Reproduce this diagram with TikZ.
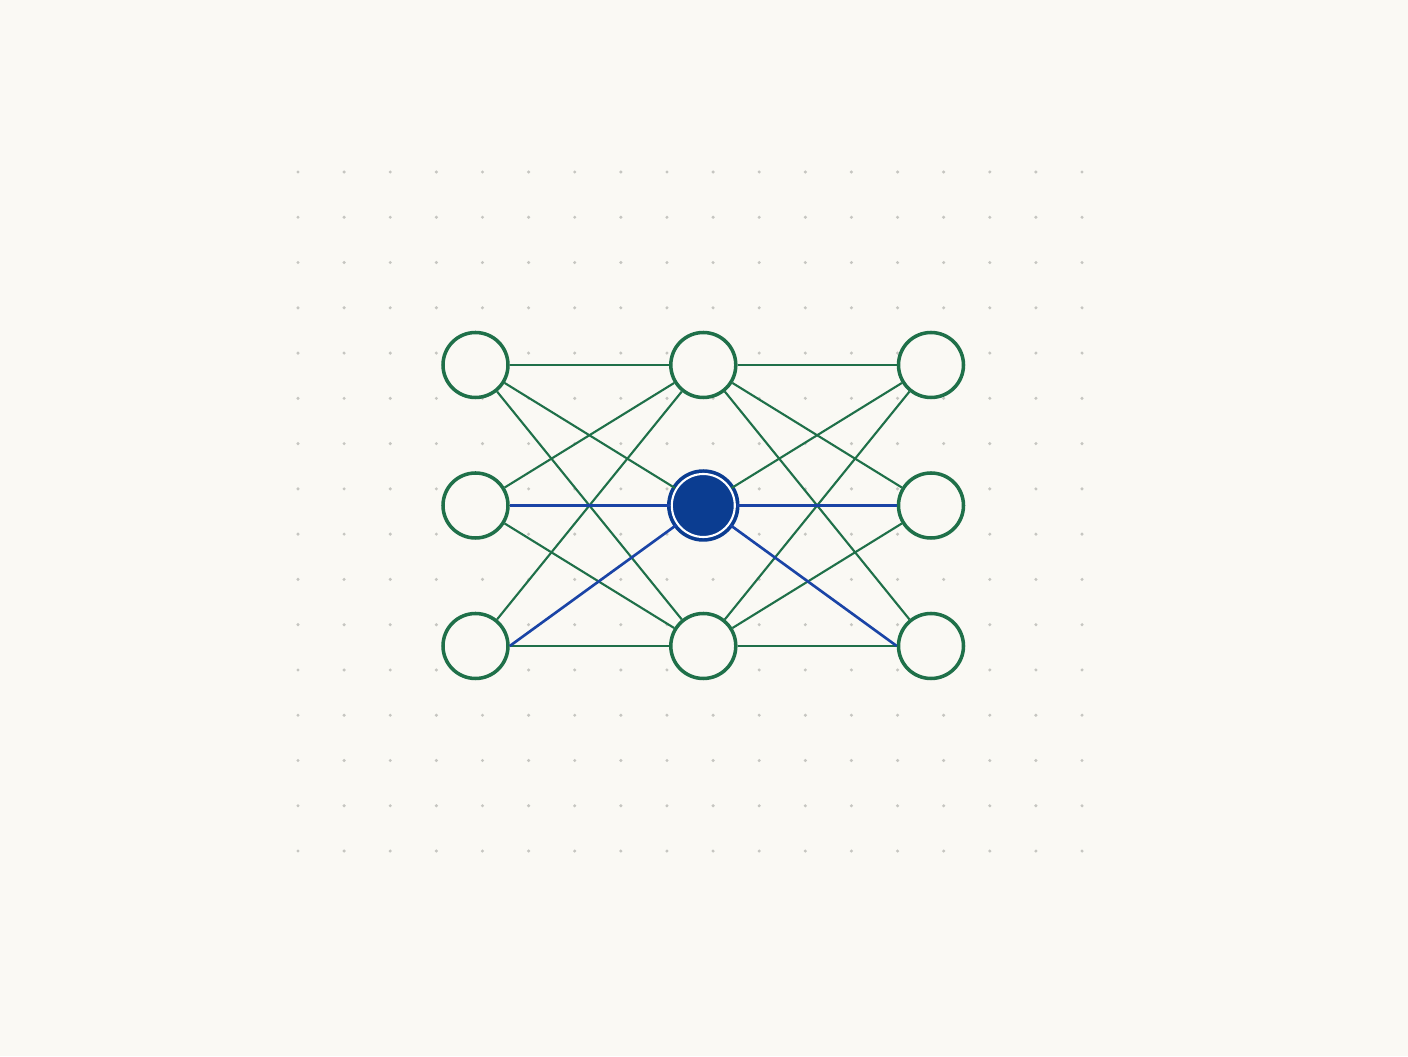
\documentclass[tikz,border=0pt]{standalone}
\definecolor{paper}{HTML}{FAF9F4}
\definecolor{netgreen}{HTML}{1F7049}
\definecolor{netblue}{HTML}{0B3D91}
\definecolor{wireblue}{HTML}{1A44A6}
\definecolor{dotgray}{HTML}{C6C6C1}
\tikzset{
  neuron/.style={circle, draw=netgreen, fill=paper, line width=1pt, minimum size=0.65cm, inner sep=0pt},
  hub/.style={circle, draw=netblue, fill=netblue, double=white, double distance=0.6pt, line width=1.05pt, minimum size=0.63cm, inner sep=0pt},
  link/.style={netgreen, line width=0.6pt},
  hot/.style={wireblue, line width=0.75pt}
}
\begin{document}
\begin{tikzpicture}

% Paper
\fill[paper] (0,0) rectangle (14.08,10.56);
\useasboundingbox (0,0) rectangle (14.08,10.56);

% Dot grid
\foreach \i in {0,...,17}
  \foreach \j in {0,...,15}
    \fill[dotgray] (2.98+0.4612*\i, 8.84-0.4527*\j) circle (0.017);

% Layers
\node[neuron] (a1) at (4.755,6.91) {};
\node[neuron] (a2) at (4.755,5.505) {};
\node[neuron] (a3) at (4.755,4.10) {};
\node[neuron] (b1) at (7.033,6.91) {};
\node[hub]    (b2) at (7.033,5.505) {};
\node[neuron] (b3) at (7.033,4.10) {};
\node[neuron] (c1) at (9.31,6.91) {};
\node[neuron] (c2) at (9.31,5.505) {};
\node[neuron] (c3) at (9.31,4.10) {};

% Connections
\foreach \s/\t in {a1/b1,a1/b2,a1/b3,a2/b1,a2/b3,a3/b1,a3/b3,b1/c1,b1/c2,b1/c3,b2/c1,b3/c1,b3/c2,b3/c3}
  \draw[link] (\s) -- (\t);

% Highlighted path
\draw[hot] (a2) -- (b2);
\draw[hot] (a3.east) -- (b2);
\draw[hot] (b2) -- (c2);
\draw[hot] (b2) -- (c3.west);

\end{tikzpicture}
\end{document}
